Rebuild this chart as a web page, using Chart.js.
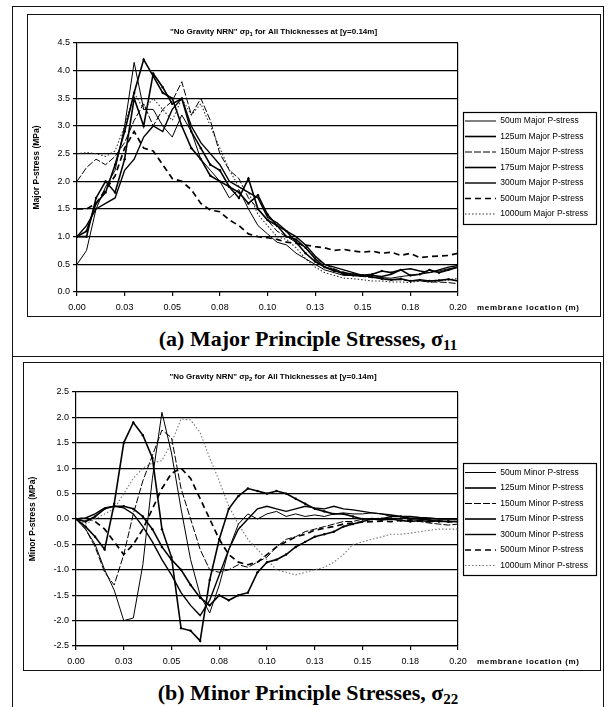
<!DOCTYPE html>
<html>
<head>
<meta charset="utf-8">
<script src="https://cdn.jsdelivr.net/npm/chart.js@4.4.1/dist/chart.umd.min.js"></script>
<style>
  html, body { margin: 0; padding: 0; background: #fff; width: 610px; height: 707px; overflow: hidden; position: relative; }
  #frame { position: absolute; left: 12px; top: 6px; width: 590px; height: 720px; border: 1.5px solid #111; }
  #divider { position: absolute; left: 12px; top: 356px; width: 592px; height: 0; border-top: 1.5px solid #111; }
  .box { position: absolute; border: 1.5px solid #111; }
  .box canvas { display: block; }
  .caption { position: absolute; left: 12px; width: 592px; text-align: center; font-family: 'Liberation Serif', 'Times New Roman', serif; font-weight: bold; font-size: 22px; line-height: 22px; color: #000; }
  .caption sub { font-size: 15px; vertical-align: -4px; line-height: 0; }
</style>
</head>
<body>
<div id="frame"></div>
<div id="divider"></div>
<div class="box" style="left:26.5px;top:13.5px;"><canvas id="majorChart" width="572" height="301"></canvas></div>
<div class="caption" style="top:328px;">(a) Major Principle Stresses, σ<sub>11</sub></div>
<div class="box" style="left:22.5px;top:361.5px;"><canvas id="minorChart" width="576" height="307"></canvas></div>
<div class="caption" style="top:682px;">(b) Minor Principle Stresses, σ<sub>22</sub></div>

<script>
// membrane location (m), same sampling for every series
var xPositions = [0, 0.005, 0.01, 0.015, 0.02, 0.025, 0.03, 0.035, 0.04, 0.045,
  0.05, 0.055, 0.06, 0.065, 0.07, 0.075, 0.08, 0.085, 0.09, 0.095,
  0.1, 0.105, 0.11, 0.115, 0.12, 0.125, 0.13, 0.135, 0.14, 0.145,
  0.15, 0.155, 0.16, 0.165, 0.17, 0.175, 0.18, 0.185, 0.19, 0.195, 0.2];
var xTickLabels = ['0.00', '0.03', '0.05', '0.08', '0.10', '0.13', '0.15', '0.18', '0.20'];
var thicknesses = ['50um', '125um', '150um', '175um', '300um', '500um', '1000um'];

// major principal stress (MPa)
var major50 = [0.5, 0.75, 1.5, 1.9, 2.2, 3.0, 4.15, 3.3, 3.3, 3.0, 2.8, 3.2, 2.9, 2.4, 2.2, 2.0, 1.7, 1.85, 1.5, 1.2, 1.05, 0.9, 0.85, 0.7, 0.6, 0.5, 0.4, 0.35, 0.3, 0.3, 0.28, 0.3, 0.26, 0.25, 0.28, 0.3, 0.32, 0.35, 0.38, 0.42, 0.45];
var major125 = [1.0, 1.1, 1.6, 1.8, 2.3, 2.9, 3.6, 4.2, 3.9, 3.6, 3.5, 3.0, 2.6, 2.4, 2.1, 2.0, 1.9, 1.7, 2.05, 1.5, 1.3, 1.2, 1.0, 0.95, 0.8, 0.6, 0.45, 0.4, 0.32, 0.3, 0.3, 0.32, 0.38, 0.35, 0.4, 0.3, 0.32, 0.4, 0.35, 0.4, 0.45];
var major150 = [2.0, 2.25, 2.4, 2.3, 2.45, 2.7, 3.1, 3.4, 3.0, 3.3, 3.45, 3.8, 3.2, 3.5, 3.1, 2.5, 2.2, 2.05, 1.7, 1.5, 1.3, 1.1, 1.0, 0.9, 0.8, 0.62, 0.5, 0.42, 0.35, 0.3, 0.28, 0.26, 0.25, 0.22, 0.22, 0.2, 0.2, 0.18, 0.18, 0.17, 0.15];
var major175 = [1.0, 1.0, 1.7, 2.0, 1.8, 2.4, 3.5, 3.0, 3.95, 3.7, 3.4, 3.5, 2.9, 2.6, 2.3, 2.2, 1.9, 1.8, 1.6, 1.75, 1.4, 1.2, 1.1, 0.9, 0.7, 0.55, 0.45, 0.38, 0.35, 0.32, 0.3, 0.27, 0.24, 0.22, 0.24, 0.2, 0.22, 0.2, 0.21, 0.23, 0.2];
var major300 = [1.0, 1.2, 1.5, 1.6, 1.7, 2.2, 2.4, 2.8, 3.0, 2.9, 3.3, 3.5, 3.0, 2.7, 2.5, 2.3, 2.0, 1.9, 1.8, 1.7, 1.35, 1.25, 1.1, 1.0, 0.85, 0.65, 0.5, 0.45, 0.4, 0.35, 0.3, 0.3, 0.28, 0.32, 0.4, 0.42, 0.38, 0.35, 0.4, 0.45, 0.48];
var major500 = [1.5, 1.5, 1.6, 1.85, 2.1, 2.6, 2.9, 2.6, 2.55, 2.3, 2.05, 2.0, 1.85, 1.6, 1.48, 1.45, 1.3, 1.2, 1.05, 1.0, 0.98, 0.95, 0.9, 0.88, 0.85, 0.82, 0.8, 0.75, 0.77, 0.74, 0.72, 0.74, 0.7, 0.72, 0.66, 0.7, 0.62, 0.64, 0.65, 0.66, 0.7];
var major1000 = [2.5, 2.52, 2.5, 2.45, 2.55, 3.0, 3.6, 3.3, 3.5, 3.3, 3.1, 3.5, 3.2, 3.4, 3.0, 2.6, 2.2, 1.9, 1.8, 1.4, 1.2, 1.0, 0.95, 0.8, 0.6, 0.45, 0.35, 0.3, 0.25, 0.24, 0.22, 0.2, 0.2, 0.18, 0.18, 0.17, 0.2, 0.18, 0.2, 0.22, 0.25];

// minor principal stress (MPa)
var minor50 = [0, -0.2, -0.5, -1.0, -1.4, -2.0, -1.95, -0.9, 0.8, 2.1, 1.3, 0.2, -0.8, -1.5, -1.85, -1.3, -0.6, -0.1, 0.1, 0.0, 0.1, 0.15, 0.05, 0.1, 0.05, 0.08, 0.05, 0.1, 0.12, 0.1, 0.1, 0.12, 0.1, 0.05, 0.05, 0.02, 0.02, 0.0, 0.0, 0.0, 0.0];
var minor125 = [0, -0.15, -0.35, -0.6, 0.3, 1.5, 1.9, 1.65, 1.2, -0.2, -0.75, -2.15, -2.2, -2.4, -1.2, -0.4, 0.2, 0.45, 0.6, 0.55, 0.5, 0.55, 0.5, 0.4, 0.3, 0.2, 0.15, 0.1, 0.1, 0.05, 0.0, 0.0, -0.02, 0.0, -0.03, -0.05, -0.03, -0.05, -0.04, -0.05, -0.05];
var minor150 = [0, -0.2, -0.55, -1.05, -1.3, -0.7, 0.1, 0.75, 1.25, 1.75, 1.6, 0.6, 0.0, -0.6, -1.0, -1.05, -1.0, -0.9, -0.95, -0.85, -0.75, -0.55, -0.4, -0.35, -0.25, -0.2, -0.15, -0.1, -0.05, -0.05, 0.0, 0.0, 0.02, 0.0, -0.02, -0.05, -0.05, -0.08, -0.1, -0.12, -0.1];
var minor175 = [0, -0.05, 0.05, 0.2, 0.25, 0.25, 0.2, 0.05, -0.2, -0.55, -0.8, -1.0, -1.3, -1.55, -1.7, -1.5, -1.6, -1.5, -1.45, -1.05, -0.85, -0.8, -0.7, -0.55, -0.45, -0.35, -0.3, -0.25, -0.15, -0.1, -0.05, 0.0, 0.0, 0.05, 0.05, 0.0, 0.0, -0.02, -0.05, -0.05, -0.05];
var minor300 = [0, 0.02, 0.1, 0.22, 0.25, 0.22, 0.1, -0.15, -0.45, -0.8, -1.1, -1.45, -1.7, -1.9, -1.6, -1.1, -0.6, -0.2, 0.0, 0.2, 0.25, 0.2, 0.15, 0.2, 0.25, 0.22, 0.2, 0.25, 0.2, 0.18, 0.15, 0.12, 0.1, 0.08, 0.05, 0.05, 0.03, 0.02, 0.0, 0.0, 0.0];
var minor500 = [0, 0.02, -0.05, -0.2, -0.45, -0.7, -0.5, -0.2, 0.2, 0.6, 0.9, 1.0, 0.8, 0.4, 0.0, -0.4, -0.7, -0.85, -0.9, -0.85, -0.7, -0.55, -0.45, -0.35, -0.3, -0.22, -0.18, -0.15, -0.1, -0.08, -0.06, -0.05, -0.04, -0.05, -0.03, -0.02, -0.03, -0.05, -0.04, -0.05, -0.06];
var minor1000 = [0, -0.1, 0.0, 0.1, 0.2, 0.5, 0.8, 1.0, 1.1, 1.15, 1.5, 1.97, 1.95, 1.7, 1.2, 0.75, 0.25, -0.1, -0.4, -0.6, -0.8, -1.0, -1.05, -1.1, -1.05, -1.0, -0.95, -0.85, -0.7, -0.5, -0.45, -0.4, -0.35, -0.3, -0.3, -0.28, -0.25, -0.22, -0.2, -0.2, -0.2];

var SANS = "'Liberation Sans', Arial, sans-serif";
Chart.defaults.font.family = SANS;
Chart.defaults.color = '#000';

// line look for each thickness, same order as thicknesses
var lineStyles = [
  { borderWidth: 1, borderDash: [], pointRadius: 0 },
  { borderWidth: 1.6, borderDash: [], pointRadius: 1.2 },
  { borderWidth: 1, borderDash: [7, 2], pointRadius: 0 },
  { borderWidth: 1.6, borderDash: [], pointRadius: 1.2 },
  { borderWidth: 1.4, borderDash: [], pointRadius: 0 },
  { borderWidth: 1.7, borderDash: [6, 4], pointRadius: 0 },
  { borderWidth: 1.1, borderDash: [1.5, 2], pointRadius: 0 }
];

function buildDatasets(series, suffix, dotColor) {
  return series.map(function (values, i) {
    var st = lineStyles[i];
    var color = i === 6 ? dotColor : '#000';
    return {
      label: thicknesses[i] + suffix,
      data: values.map(function (v, j) { return { x: xPositions[j], y: v }; }),
      borderColor: color,
      backgroundColor: color,
      borderWidth: st.borderWidth,
      borderDash: st.borderDash,
      pointRadius: st.pointRadius,
      pointBorderWidth: 0,
      tension: 0,
      fill: false
    };
  });
}

function legendLabels(chart) {
  return chart.data.datasets.map(function (ds, i) {
    return {
      text: ds.label,
      strokeStyle: ds.borderColor,
      fillStyle: ds.borderColor,
      lineWidth: ds.borderWidth,
      lineDash: ds.borderDash,
      pointStyle: 'line',
      fontColor: '#000',
      hidden: false,
      datasetIndex: i
    };
  });
}

// draws a line of text made of runs with different fonts (for the sigma subscript)
function drawRuns(ctx, runs, cx, y) {
  var total = 0;
  runs.forEach(function (r) { ctx.font = r.font; total += ctx.measureText(r.text).width; });
  var x = cx - total / 2;
  runs.forEach(function (r) {
    ctx.font = r.font;
    ctx.fillText(r.text, x, y + (r.dy || 0));
    x += ctx.measureText(r.text).width;
  });
}

// fixed legend width, boxed legend, chart title and the axis name beside the last tick
var panelText = {
  id: 'panelText',
  beforeLayout: function (chart, args, opts) {
    var legend = chart.legend;
    if (legend && !legend._fixedWidth) {
      var fit = legend.fit;
      legend.fit = function () { fit.call(this); this.width = opts.legendWidth; };
      legend._fixedWidth = true;
    }
  },
  afterDraw: function (chart, args, opts) {
    var ctx = chart.ctx;
    var area = chart.chartArea;
    ctx.save();
    ctx.fillStyle = '#000';
    ctx.textBaseline = 'middle';
    ctx.textAlign = 'left';

    var b = 'bold 8px ' + SANS;
    drawRuns(ctx, [
      { text: '"No Gravity NRN" σ', font: b },
      { text: 'p', font: 'bold 7px ' + SANS },
      { text: opts.sub, font: 'bold 6px ' + SANS, dy: 2 },
      { text: ' for All Thicknesses at [y=0.14m]', font: b }
    ], (area.left + area.right) / 2 + 6, area.top - opts.titleGap);

    ctx.font = 'bold 8px ' + SANS;
    if ('letterSpacing' in ctx) ctx.letterSpacing = '0.7px';
    ctx.fillText('membrane location (m)', area.right + 19, area.bottom + opts.labelGap);
    if ('letterSpacing' in ctx) ctx.letterSpacing = '0px';

    var legend = chart.legend;
    var hb = legend.legendHitBoxes;
    if (hb && hb.length) {
      var top = hb[0].top - 5;
      var last = hb[hb.length - 1];
      var bottom = last.top + last.height + 5;
      ctx.strokeStyle = '#000';
      ctx.lineWidth = 1.2;
      ctx.strokeRect(legend.left + 5.5, Math.round(top) + 0.5, legend.right - legend.left - 9, Math.round(bottom - top));
    }
    ctx.restore();
  }
};

function makeChart(id, series, suffix, dotColor, yMin, yMax, yTitle, sub, pad, yWidth, titleGap) {
  var ctx = document.getElementById(id).getContext('2d');
  return new Chart(ctx, {
    type: 'line',
    data: { datasets: buildDatasets(series, suffix, dotColor) },
    plugins: [panelText],
    options: {
      responsive: false,
      animation: false,
      devicePixelRatio: 1,
      layout: { padding: { left: 0, top: pad, right: 0, bottom: 0 } },
      plugins: {
        tooltip: { enabled: false },
        title: { display: false },
        legend: {
          position: 'right',
          fullSize: false,
          align: 'center',
          labels: {
            usePointStyle: true,
            pointStyleWidth: 31,
            padding: 7,
            color: '#000',
            font: { size: 8.5 },
            generateLabels: legendLabels
          }
        },
        panelText: { legendWidth: 142, sub: sub, titleGap: titleGap, labelGap: 16 }
      },
      scales: {
        x: {
          type: 'linear',
          min: 0,
          max: 0.2,
          afterFit: function (scale) { scale.height = 24; },
          ticks: {
            stepSize: 0.025,
            autoSkip: false,
            maxRotation: 0,
            padding: 6,
            font: { size: 9 },
            color: '#000',
            callback: function (v, i) { return xTickLabels[i]; }
          },
          grid: {
            drawOnChartArea: true,
            tickLength: 4,
            tickColor: '#000',
            lineWidth: 1.2,
            color: function (c) { return c.tick && Math.abs(c.tick.value - 0.2) < 1e-9 ? '#000' : 'rgba(0,0,0,0)'; }
          },
          border: { display: true, color: '#000', width: 1.2 }
        },
        y: {
          min: yMin,
          max: yMax,
          afterFit: function (scale) { scale.width = yWidth; },
          ticks: {
            stepSize: 0.5,
            padding: 3,
            font: { size: 9 },
            color: '#000',
            callback: function (v) { return v.toFixed(1); }
          },
          grid: { color: '#000', lineWidth: 1.2, tickLength: 4, tickColor: '#000' },
          border: { display: true, color: '#000', width: 1.2 },
          title: {
            display: true,
            text: yTitle,
            color: '#000',
            font: { size: 8.5, weight: 'bold' },
            padding: { top: 4, bottom: 0 }
          }
        }
      }
    }
  });
}

makeChart('majorChart',
  [major50, major125, major150, major175, major300, major500, major1000],
  ' Major P-stress', '#333', 0, 4.5, 'Major P-stress (MPa)', '1', 28, 49, 11);

makeChart('minorChart',
  [minor50, minor125, minor150, minor175, minor300, minor500, minor1000],
  ' Minor P-stress', '#777', -2.5, 2.5, 'Minor P-stress (MPa)', '2', 29, 52, 15);
</script>
</body>
</html>
